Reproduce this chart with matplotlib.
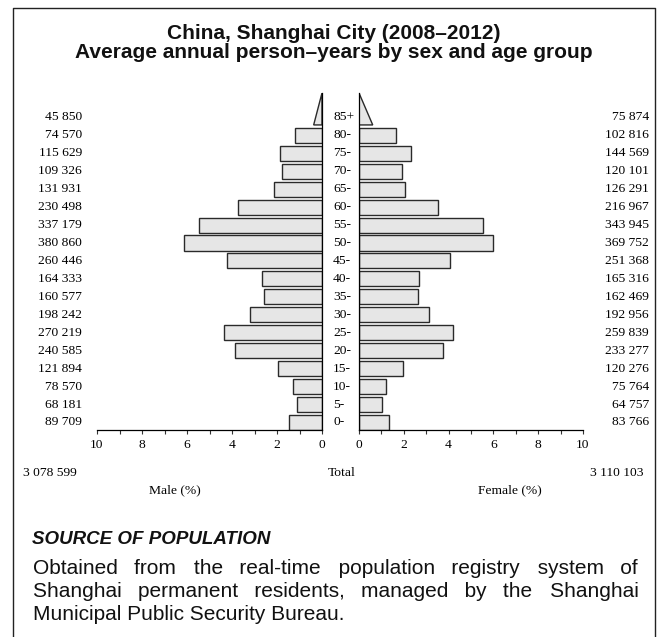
import matplotlib
matplotlib.use("Agg")
import matplotlib.pyplot as plt
import numpy as np
from matplotlib.patches import Polygon
from matplotlib.lines import Line2D
from matplotlib.transforms import blended_transform_factory

# age groups from youngest to oldest (last one is open-ended)
ages = ["0-", "5-", "10-", "15-", "20-", "25-", "30-", "35-", "40-",
        "45-", "50-", "55-", "60-", "65-", "70-", "75-", "80-", "85+"]
male = [89709, 68181, 78570, 121894, 240585, 270219, 198242, 160577, 164333,
        260446, 380860, 337179, 230498, 131931, 109326, 115629, 74570, 45850]
female = [83766, 64757, 75764, 120276, 233277, 259839, 192956, 162469, 165316,
          251368, 369752, 343945, 216967, 126291, 120101, 144569, 102816, 75874]
male_total = "3 078 599"
female_total = "3 110 103"
title = "China, Shanghai City (2008\u20132012)\nAverage annual person\u2013years by sex and age group"
source_head = "SOURCE OF POPULATION"
source_lines = ["Obtained from the real-time population registry system of",
                "Shanghai permanent residents, managed by the Shanghai",
                "Municipal Public Security Bureau."]

W, H = 657, 637
SERIF = "Liberation Serif"
SANS = "Liberation Sans"
FACE, EDGE = "#e6e6e6", "#2a2a2a"


def px(x, y):
    return x / W, 1 - y / H


def fmt(n):
    return f"{n:,}".replace(",", " ")


grand = sum(male) + sum(female)
m_pct = np.array(male) / grand * 100
f_pct = np.array(female) / grand * 100
ypos = np.arange(len(ages))
bh = 0.84
ylo, yhi = -0.42, 18.36

fig = plt.figure(figsize=(W / 100, H / 100), dpi=100)
bottom, top = px(0, 430)[1], px(0, 93)[1]
axl = fig.add_axes([97 / W, bottom, 225 / W, top - bottom])
axr = fig.add_axes([359 / W, bottom, 224 / W, top - bottom])

for ax, pct, side in [(axl, m_pct, "l"), (axr, f_pct, "r")]:
    ax.barh(ypos[:-1], pct[:-1], height=bh, color=FACE, edgecolor=EDGE, linewidth=1.0)
    # open-ended top group drawn as a triangle
    b = ypos[-1] - bh / 2
    tri = Polygon([(0, b), (pct[-1] / 2, b), (0, yhi)], closed=True,
                  facecolor=FACE, edgecolor=EDGE, linewidth=1.0)
    ax.add_patch(tri)
    ax.set_xlim(0, 10)
    ax.set_ylim(ylo, yhi)
    ax.set_xticks(np.arange(0, 11, 2))
    ax.set_xticks(np.arange(1, 10, 2), minor=True)
    ax.set_yticks([])
    ax.tick_params(axis="x", which="both", direction="out", length=3, width=0.8,
                   color="#333333", pad=3.5, labelsize=9.7)
    for lab in ax.get_xticklabels():
        lab.set_fontfamily(SERIF)
    ax.spines["top"].set_visible(False)
    ax.spines["bottom"].set_linewidth(0.9)
    ax.set_facecolor("none")
    if side == "l":
        ax.invert_xaxis()
        ax.spines["left"].set_visible(False)
        ax.spines["right"].set_linewidth(0.9)
    else:
        ax.spines["right"].set_visible(False)
        ax.spines["left"].set_linewidth(0.9)

# row labels
tl = blended_transform_factory(fig.transFigure, axl.transData)
for i in range(len(ages)):
    fig.text(82 / W, i, fmt(male[i]), transform=tl, ha="right", va="center",
             family=SERIF, fontsize=9.7)
    fig.text(649 / W, i, fmt(female[i]), transform=tl, ha="right", va="center",
             family=SERIF, fontsize=9.7)
    fig.text(333 / W, i, ages[i], transform=tl, ha="left", va="center",
             family=SERIF, fontsize=9.7)

fig.text(*px(23, 473), male_total, ha="left", va="center", family=SERIF, fontsize=9.7)
fig.text(*px(342, 473), "Total", ha="center", va="center", family=SERIF, fontsize=9.7)
fig.text(*px(643, 473), female_total, ha="right", va="center", family=SERIF, fontsize=9.7)
fig.text(*px(175, 490), "Male (%)", ha="center", va="center", family=SERIF, fontsize=9.7)
fig.text(*px(510, 490), "Female (%)", ha="center", va="center", family=SERIF, fontsize=9.7)

# title
fig.text(*px(334, 43), title, ha="center", va="center", family=SANS,
         fontweight="bold", fontsize=15, linespacing=0.95, color="#111111")

# frame around the panel (open at the bottom)
frame_x = [13, 13, 655, 655]
frame_y = [H, 8, 8, H]
fx = [px(x, y)[0] for x, y in zip(frame_x, frame_y)]
fy = [px(x, y)[1] for x, y in zip(frame_x, frame_y)]
fig.add_artist(Line2D(fx, fy, transform=fig.transFigure, color="#222222", linewidth=1.0))

# source note
fig.text(*px(32, 540), source_head, ha="left", va="center", family=SANS,
         fontweight="bold", style="italic", fontsize=13.5, color="#111111")

# body text, justified by padding the word gaps with hair spaces
renderer = fig.canvas.get_renderer()
BODY = 15
FAM = [SANS, "DejaVu Sans"]
HAIR = "\u200a"


def width_of(s):
    t = fig.text(0, 0, s, family=FAM, fontsize=BODY)
    w = t.get_window_extent(renderer).width
    t.remove()
    return w


space_w = width_of("a a") - width_of("aa")
hair_w = width_of("a" + HAIR + "a") - width_of("aa")
line_w = 638 - 33
baselines = [574, 597, 620]
for k, line in enumerate(source_lines):
    words = line.split(" ")
    text = line
    if k < len(source_lines) - 1 and hair_w > 0:
        extra = line_w - width_of(line)
        per_gap = extra / (len(words) - 1)
        parts, carry = [words[0]], 0.0
        for w in words[1:]:
            carry += per_gap
            n = int(round(carry / hair_w))
            carry -= n * hair_w
            parts.append(" " + HAIR * n + w)
        text = "".join(parts)
    fig.text(*px(33, baselines[k]), text, ha="left", va="baseline", family=FAM,
             fontsize=BODY, color="#111111")

fig.savefig("out.png", dpi=100)
